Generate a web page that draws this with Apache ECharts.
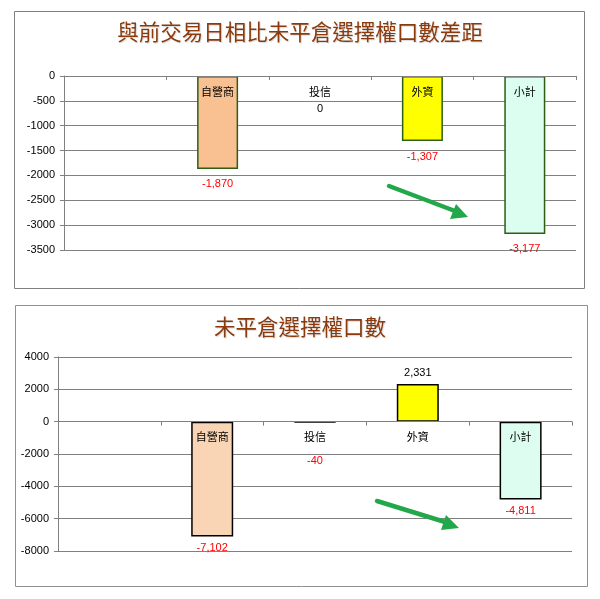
<!DOCTYPE html>
<html>
<head>
<meta charset="utf-8">
<script src="https://cdn.jsdelivr.net/npm/echarts@6/dist/echarts.min.js"></script>
<style>
html,body{margin:0;padding:0;background:#fff;}
#c{width:600px;height:599px;}
</style>
</head>
<body>
<div id="c"></div>
<script>
// ---- data ----
const categories = ['', '自營商', '投信', '外資', '小計'];
const diffTitle = '與前交易日相比未平倉選擇權口數差距';
const diffValues = [null, -1870, 0, -1307, -3177];
const diffAxisMin = -3500, diffAxisMax = 0, diffAxisStep = 500;

const openTitle = '未平倉選擇權口數';
const openValues = [null, -7102, -40, 2331, -4811];
const openAxisMin = -8000, openAxisMax = 4000, openAxisStep = 2000;

// ---- styles / layout ----
const diffFills = [null, '#F9C191', '#FFFFFF', '#FFFF00', '#DCFEF0'];
const openFills = [null, '#FAD5B5', '#FFFFFF', '#FFFF00', '#DDFDF0'];
const font = 'Arial, "Liberation Sans", "Noto Sans CJK TC", sans-serif';
const cjk = '"Noto Sans CJK TC", "Noto Sans CJK SC", sans-serif';
const grid1 = {left: 64, top: 76, width: 512, height: 174};
const grid2 = {left: 58, top: 357, width: 514, height: 194};

function fmt(v){ return v.toLocaleString('en-US'); }

function buildData(values, fills, border, gap, smallGap){
  return values.map((v, i) => {
    if (v === null) return null;
    const small = Math.abs(v) < 100;
    return {
      value: v,
      itemStyle: {color: fills[i], borderColor: border, borderWidth: v === 0 ? 0 : 1.5},
      label: {
        show: true,
        position: v > 0 ? 'top' : 'bottom',
        distance: small ? smallGap : gap,
        color: v < 0 ? '#FF0000' : '#000000',
        fontSize: 11,
        fontFamily: font,
        formatter: p => fmt(p.value)
      }
    };
  });
}

const axisColor = '#808080';

// x axis drawn on the zero line of the value axis (offset derived from the axis range)
function xAx(gridIndex, grid, min, max){
  const zeroFromBottom = grid.height * (0 - min) / (max - min);
  return {
    type: 'category', gridIndex, data: categories, position: 'bottom',
    offset: -zeroFromBottom,
    z: 5,
    axisLine: {onZero: false, lineStyle: {color: axisColor, width: 1}},
    axisTick: {show: true, length: 4, lineStyle: {color: axisColor}},
    axisLabel: {color: '#000', fontSize: 11, fontFamily: cjk, margin: 10, interval: 0},
    splitLine: {show: false}
  };
}
function yAx(gridIndex, min, max, step){
  return {
    type: 'value', gridIndex, min, max, interval: step,
    axisLine: {show: true, lineStyle: {color: axisColor, width: 1}},
    axisTick: {show: true, length: 4, lineStyle: {color: axisColor}},
    axisLabel: {color: '#000', fontSize: 11, fontFamily: font, margin: 9, formatter: v => String(v)},
    splitLine: {show: true, lineStyle: {color: axisColor, width: 1}}
  };
}

const titleStyle = (size) => ({
  color: '#8a3a0c', fontSize: size, fontWeight: 'normal', fontFamily: cjk,
  textShadowColor: 'rgba(0,0,0,0.15)', textShadowBlur: 1, textShadowOffsetX: 1, textShadowOffsetY: 1
});

const arrowColor = '#22A84A';
function arrow(x1, y1, x2, y2, head){
  return [
    {type: 'line', shape: {x1, y1, x2, y2}, style: {stroke: arrowColor, lineWidth: 4.5, lineCap: 'round'}, z: 20},
    {type: 'polygon', shape: {points: head}, style: {fill: arrowColor}, z: 20}
  ];
}

const chart = echarts.init(document.getElementById('c'), null, {renderer: 'canvas'});
chart.setOption({
  animation: false,
  backgroundColor: '#fff',
  title: [
    {text: diffTitle, left: 'center', top: 16, textStyle: titleStyle(21.5)},
    {text: openTitle, left: 'center', top: 311, textStyle: titleStyle(21.5)}
  ],
  grid: [
    Object.assign({containLabel: false}, grid1),
    Object.assign({containLabel: false}, grid2)
  ],
  xAxis: [
    xAx(0, grid1, diffAxisMin, diffAxisMax),
    xAx(1, grid2, openAxisMin, openAxisMax)
  ],
  yAxis: [
    yAx(0, diffAxisMin, diffAxisMax, diffAxisStep),
    yAx(1, openAxisMin, openAxisMax, openAxisStep)
  ],
  series: [
    {type: 'bar', xAxisIndex: 0, yAxisIndex: 0, barWidth: 41,
     data: buildData(diffValues, diffFills, '#2E5E14', 10, 27)},
    {type: 'bar', xAxisIndex: 1, yAxisIndex: 1, barWidth: 42,
     data: buildData(openValues, openFills, '#000000', 6, 33)}
  ],
  graphic: [
    {type: 'rect', shape: {x: 14.5, y: 11.5, width: 570, height: 277}, style: {fill: 'none', stroke: '#808080', lineWidth: 1}, z: 0, silent: true},
    {type: 'rect', shape: {x: 15.5, y: 305.5, width: 572, height: 281}, style: {fill: 'none', stroke: '#909090', lineWidth: 1}, z: 0, silent: true},
    ...arrow(389, 186, 455, 211, [[456, 204], [468, 217], [450, 219]]),
    ...arrow(377, 501, 445, 522, [[446, 515], [459, 528], [441, 530]])
  ]
});
</script>
</body>
</html>
